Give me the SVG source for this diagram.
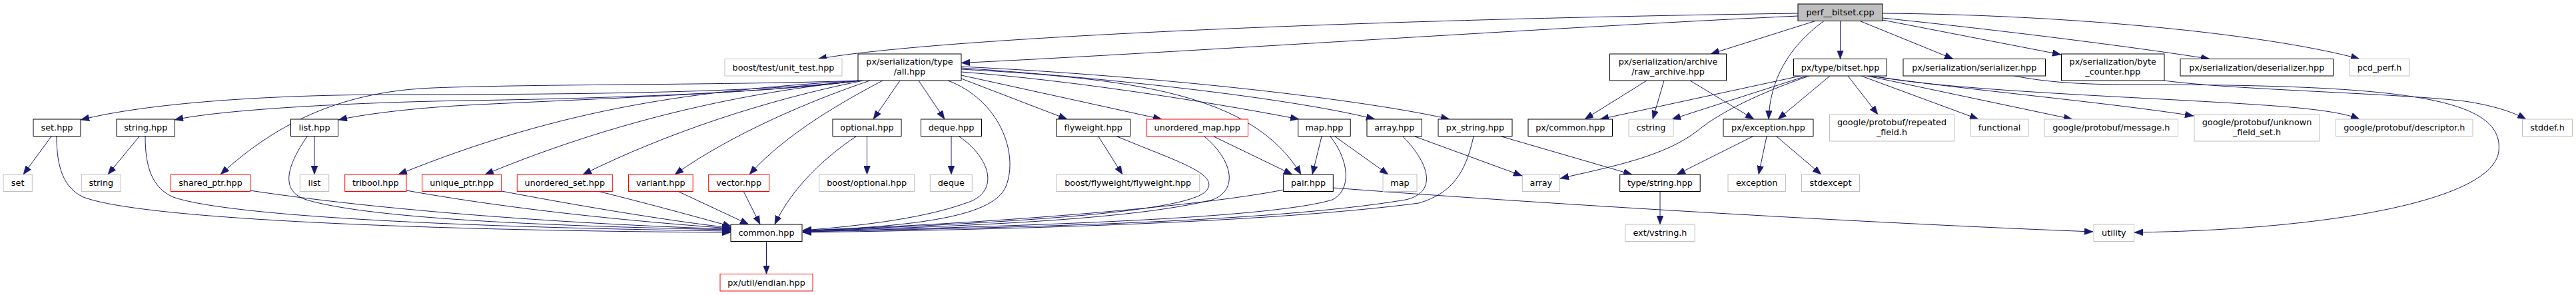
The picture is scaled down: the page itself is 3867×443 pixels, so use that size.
<svg xmlns="http://www.w3.org/2000/svg" width="3867" height="443" viewBox="0 0 3867 443">
<style>
.node rect{fill:#fff;stroke:#000;stroke-width:1}
.node.ext rect{stroke:#bfbfbf}
.node.red rect{stroke:#ff0000}
.node.root rect{fill:#bfbfbf}
text{font-family:"DejaVu Sans","Liberation Sans",sans-serif;font-size:12.8px;text-anchor:middle;fill:#000}
.edges path{fill:none;stroke:#191970;stroke-width:1;marker-end:url(#arr)}
</style>
<defs>
<marker id="arr" markerUnits="userSpaceOnUse" markerWidth="13" markerHeight="10" refX="13" refY="5" orient="auto" viewBox="0 0 13 10"><path d="M0,0 L13,5 L0,10 Z" fill="#191970" stroke="#191970" stroke-width="0.5"/></marker>
</defs>
<rect width="3867" height="443" fill="#fff"/>
<g class="edges">
<path d="M2699,20 C2000,30 1400,58 1228,88.5"/>
<path d="M2699,24 C2350,40 1750,80 1443,94.5"/>
<path d="M2725,31.5 L2568,81"/>
<path d="M2738,31.5 C2685,70 2657,120 2655,179"/>
<path d="M2762.5,31.5 L2762.5,88.5"/>
<path d="M2792,31.5 L2932,88.5"/>
<path d="M2826,30 L3094,82"/>
<path d="M2826,27 C3000,45 3200,70 3317,88.5"/>
<path d="M2826,20 C3100,22 3400,50 3542,88.5"/>
<path d="M1290,121 C1150,138 900,142 600,142 C400,142 220,155 121,180"/>
<path d="M1290,121 C1150,140 900,148 700,151 C520,154 330,165 262,180"/>
<path d="M1290,121 C1150,140 850,150 700,158 C610,163 545,172 508,180"/>
<path d="M1290,121 C1100,128 800,126 650,132 C520,137 420,180 331,262"/>
<path d="M1292,121 C1050,135 850,160 598,262"/>
<path d="M1294,121 C1150,135 950,170 728,262"/>
<path d="M1296,121 C1150,150 1000,200 875,262"/>
<path d="M1306,121 C1220,150 1100,200 1013,262"/>
<path d="M1325,121 C1270,150 1180,200 1125,262"/>
<path d="M1351,121 L1311,179"/>
<path d="M1379,121 L1418,179"/>
<path d="M1423,121 C1500,150 1530,230 1510,280 C1490,330 1350,340 1205,347"/>
<path d="M1443,118 L1602,179"/>
<path d="M1443,113 L1744,179"/>
<path d="M1443,108 C1600,120 1800,150 1950,179"/>
<path d="M1443,104 C1700,118 1880,140 1953,262"/>
<path d="M1443,102 C1700,120 1950,150 2064,179"/>
<path d="M1443,100 C1750,115 2050,150 2176,179"/>
<path d="M85,205 C85,250 95,282 125,296 C220,332 700,347 1097,349"/>
<path d="M218,205 C218,250 228,282 260,296 C360,330 800,343 1097,347"/>
<path d="M461,205 C430,250 420,287 460,300 C560,330 850,340 1097,345"/>
<path d="M375,286 C600,320 900,338 1097,344"/>
<path d="M610,286 C800,320 1000,336 1097,343"/>
<path d="M753,287 C900,315 1030,335 1097,342"/>
<path d="M897,287 C990,310 1060,330 1098,340"/>
<path d="M1017,287 L1124,337"/>
<path d="M1116,287 L1141,337"/>
<path d="M1285,205 C1240,235 1190,280 1163,337"/>
<path d="M1440,205 C1490,240 1500,290 1450,305 C1380,330 1280,340 1205,346"/>
<path d="M1677,205 C1760,240 1830,260 1812,285 C1790,320 1500,335 1205,347"/>
<path d="M1808,205 C1850,240 1860,285 1820,300 C1700,330 1450,340 1205,347"/>
<path d="M1997,205 C2025,240 2030,285 2000,300 C1900,330 1500,340 1205,348"/>
<path d="M1927,285 C1800,310 1500,335 1205,346"/>
<path d="M2106,205 C2150,250 2155,290 2110,300 C1900,335 1500,342 1205,348"/>
<path d="M2212,205 C2200,260 2180,290 2130,305 C1900,335 1500,345 1205,349"/>
<path d="M1150.5,362.5 L1150.5,411.5"/>
<path d="M77,205 L35,262"/>
<path d="M209,205 L162,262"/>
<path d="M472,205 L472,262"/>
<path d="M1301.5,205 L1301.5,262"/>
<path d="M1428,205 L1428,262"/>
<path d="M1649,205 L1685,262"/>
<path d="M1822,205 L1940,262"/>
<path d="M1984,205 L1970,262"/>
<path d="M2004,205 L2084,262"/>
<path d="M2124,205 L2285,264"/>
<path d="M2254,205 L2450,262"/>
<path d="M2716,114 C2640,140 2580,170 2550,195 C2500,235 2420,250 2342,268"/>
<path d="M2492,287.5 L2492,337"/>
<path d="M2631,205 L2517,262"/>
<path d="M2652,205 L2640,262"/>
<path d="M2667,205 L2734,262"/>
<path d="M2472,121 L2379,179"/>
<path d="M2498,121 L2481,179"/>
<path d="M2537,121 L2633,179"/>
<path d="M2703,114 L2402,179"/>
<path d="M2712,114 L2510,179"/>
<path d="M2747,114 L2669,179"/>
<path d="M2774,114 L2819,172"/>
<path d="M2794,114 L2970,179"/>
<path d="M2803,114 L3111,179"/>
<path d="M2808,114 C2950,135 3150,152 3293,174"/>
<path d="M2810,114 C2950,140 3300,148 3450,162 C3500,167 3525,172 3542,179"/>
<path d="M3024,114 C3070,123 3120,127 3200,127 C3600,127 3760,145 3751,227 C3743,300 3500,345 3204,349"/>
<path d="M3249,121 C3350,135 3600,140 3700,152 C3740,158 3770,167 3792,179"/>
<path d="M2001,282 C2300,305 2800,335 3142,348"/>
</g>
<g id="n_perf" class="node root"><rect x="2699" y="6" width="127" height="25.5"/><text x="2762.5" y="23.2">perf__bitset.cpp</text></g>
<g id="n_unit_test" class="node ext"><rect x="1088" y="88.5" width="176" height="25.5"/><text x="1176" y="105.7">boost/test/unit_test.hpp</text></g>
<g id="n_all" class="node"><rect x="1288" y="81" width="155" height="40"/><text x="1365.5" y="97">px/serialization/type</text><text x="1365.5" y="111.6">/all.hpp</text></g>
<g id="n_raw_archive" class="node"><rect x="2416.5" y="81" width="175" height="40"/><text x="2504" y="97">px/serialization/archive</text><text x="2504" y="111.6">/raw_archive.hpp</text></g>
<g id="n_bitset" class="node"><rect x="2692.5" y="88.5" width="140" height="25.5"/><text x="2762.5" y="105.7">px/type/bitset.hpp</text></g>
<g id="n_serializer" class="node"><rect x="2857" y="88.5" width="213.5" height="25.5"/><text x="2963.75" y="105.7">px/serialization/serializer.hpp</text></g>
<g id="n_byte_counter" class="node"><rect x="3094.5" y="81" width="154.5" height="40"/><text x="3171.75" y="97">px/serialization/byte</text><text x="3171.75" y="111.6">_counter.hpp</text></g>
<g id="n_deserializer" class="node"><rect x="3273" y="88.5" width="229.5" height="25.5"/><text x="3387.75" y="105.7">px/serialization/deserializer.hpp</text></g>
<g id="n_pcd_perf" class="node ext"><rect x="3527" y="88.5" width="90" height="25.5"/><text x="3572" y="105.7">pcd_perf.h</text></g>
<g id="n_set_hpp" class="node"><rect x="50" y="179" width="71" height="25.5"/><text x="85.5" y="196.2">set.hpp</text></g>
<g id="n_string_hpp" class="node"><rect x="175" y="179" width="87.5" height="25.5"/><text x="218.75" y="196.2">string.hpp</text></g>
<g id="n_list_hpp" class="node"><rect x="436.5" y="179" width="71" height="25.5"/><text x="472" y="196.2">list.hpp</text></g>
<g id="n_optional_hpp" class="node"><rect x="1250" y="179" width="103" height="25.5"/><text x="1301.5" y="196.2">optional.hpp</text></g>
<g id="n_deque_hpp" class="node"><rect x="1382.5" y="179" width="91" height="25.5"/><text x="1428" y="196.2">deque.hpp</text></g>
<g id="n_flyweight_hpp" class="node"><rect x="1585.7" y="179" width="111" height="25.5"/><text x="1641.2" y="196.2">flyweight.hpp</text></g>
<g id="n_unordered_map_hpp" class="node red"><rect x="1721" y="179" width="152.5" height="25.5"/><text x="1797.25" y="196.2">unordered_map.hpp</text></g>
<g id="n_map_hpp" class="node"><rect x="1948.7" y="179" width="78.5" height="25.5"/><text x="1987.95" y="196.2">map.hpp</text></g>
<g id="n_array_hpp" class="node"><rect x="2052" y="179" width="82.5" height="25.5"/><text x="2093.25" y="196.2">array.hpp</text></g>
<g id="n_px_string_hpp" class="node"><rect x="2159" y="179" width="111" height="25.5"/><text x="2214.5" y="196.2">px_string.hpp</text></g>
<g id="n_px_common" class="node"><rect x="2294" y="179" width="126.5" height="25.5"/><text x="2357.25" y="196.2">px/common.hpp</text></g>
<g id="n_cstring" class="node ext"><rect x="2445" y="179" width="67" height="25.5"/><text x="2478.5" y="196.2">cstring</text></g>
<g id="n_px_exception" class="node"><rect x="2587" y="179" width="135" height="25.5"/><text x="2654.5" y="196.2">px/exception.hpp</text></g>
<g id="n_repeated_field" class="node ext"><rect x="2746.5" y="172" width="187" height="40"/><text x="2840" y="188">google/protobuf/repeated</text><text x="2840" y="202.6">_field.h</text></g>
<g id="n_functional" class="node ext"><rect x="2958" y="179" width="87" height="25.5"/><text x="3001.5" y="196.2">functional</text></g>
<g id="n_message" class="node ext"><rect x="3069" y="179" width="200.5" height="25.5"/><text x="3169.25" y="196.2">google/protobuf/message.h</text></g>
<g id="n_unknown_field_set" class="node ext"><rect x="3294" y="172" width="188" height="40"/><text x="3388" y="188">google/protobuf/unknown</text><text x="3388" y="202.6">_field_set.h</text></g>
<g id="n_descriptor" class="node ext"><rect x="3506.5" y="179" width="205.5" height="25.5"/><text x="3609.25" y="196.2">google/protobuf/descriptor.h</text></g>
<g id="n_stddef" class="node ext"><rect x="3786.5" y="179" width="75" height="25.5"/><text x="3824" y="196.2">stddef.h</text></g>
<g id="n_set" class="node ext"><rect x="5" y="262" width="43.3" height="25.5"/><text x="26.65" y="279.2">set</text></g>
<g id="n_string" class="node ext"><rect x="122.3" y="262" width="59" height="25.5"/><text x="151.8" y="279.2">string</text></g>
<g id="n_shared_ptr" class="node red"><rect x="256.3" y="262" width="119.4" height="25.5"/><text x="316" y="279.2">shared_ptr.hpp</text></g>
<g id="n_list" class="node ext"><rect x="450.3" y="262" width="43.4" height="25.5"/><text x="472" y="279.2">list</text></g>
<g id="n_tribool" class="node red"><rect x="517.7" y="262" width="92.3" height="25.5"/><text x="563.85" y="279.2">tribool.hpp</text></g>
<g id="n_unique_ptr" class="node red"><rect x="633.7" y="262" width="119" height="25.5"/><text x="693.2" y="279.2">unique_ptr.hpp</text></g>
<g id="n_unordered_set" class="node red"><rect x="776.3" y="262" width="143" height="25.5"/><text x="847.8" y="279.2">unordered_set.hpp</text></g>
<g id="n_variant" class="node red"><rect x="943.5" y="262" width="96.7" height="25.5"/><text x="991.85" y="279.2">variant.hpp</text></g>
<g id="n_vector" class="node red"><rect x="1063.7" y="262" width="91" height="25.5"/><text x="1109.2" y="279.2">vector.hpp</text></g>
<g id="n_boost_optional" class="node ext"><rect x="1229.7" y="262" width="143" height="25.5"/><text x="1301.2" y="279.2">boost/optional.hpp</text></g>
<g id="n_deque" class="node ext"><rect x="1396.3" y="262" width="63" height="25.5"/><text x="1427.8" y="279.2">deque</text></g>
<g id="n_boost_flyweight" class="node ext"><rect x="1585.7" y="262" width="215" height="25.5"/><text x="1693.2" y="279.2">boost/flyweight/flyweight.hpp</text></g>
<g id="n_pair_hpp" class="node"><rect x="1926.7" y="262" width="74.6" height="25.5"/><text x="1964" y="279.2">pair.hpp</text></g>
<g id="n_map" class="node ext"><rect x="2076" y="262" width="51" height="25.5"/><text x="2101.5" y="279.2">map</text></g>
<g id="n_array" class="node ext"><rect x="2285.3" y="262" width="56.2" height="25.5"/><text x="2313.4" y="279.2">array</text></g>
<g id="n_type_string" class="node"><rect x="2431.7" y="262" width="120.5" height="25.5"/><text x="2491.95" y="279.2">type/string.hpp</text></g>
<g id="n_exception" class="node ext"><rect x="2594" y="262" width="86.4" height="25.5"/><text x="2637.2" y="279.2">exception</text></g>
<g id="n_stdexcept" class="node ext"><rect x="2704.5" y="262" width="87" height="25.5"/><text x="2748" y="279.2">stdexcept</text></g>
<g id="n_common_hpp" class="node"><rect x="1097" y="337" width="107" height="25.5"/><text x="1150.5" y="354.2">common.hpp</text></g>
<g id="n_vstring" class="node ext"><rect x="2439.7" y="337" width="104.5" height="25.5"/><text x="2491.95" y="354.2">ext/vstring.h</text></g>
<g id="n_utility" class="node ext"><rect x="3143" y="337" width="60.6" height="25.5"/><text x="3173.3" y="354.2">utility</text></g>
<g id="n_endian" class="node red"><rect x="1081" y="411.5" width="139" height="25.5"/><text x="1150.5" y="428.7">px/util/endian.hpp</text></g>
</svg>
